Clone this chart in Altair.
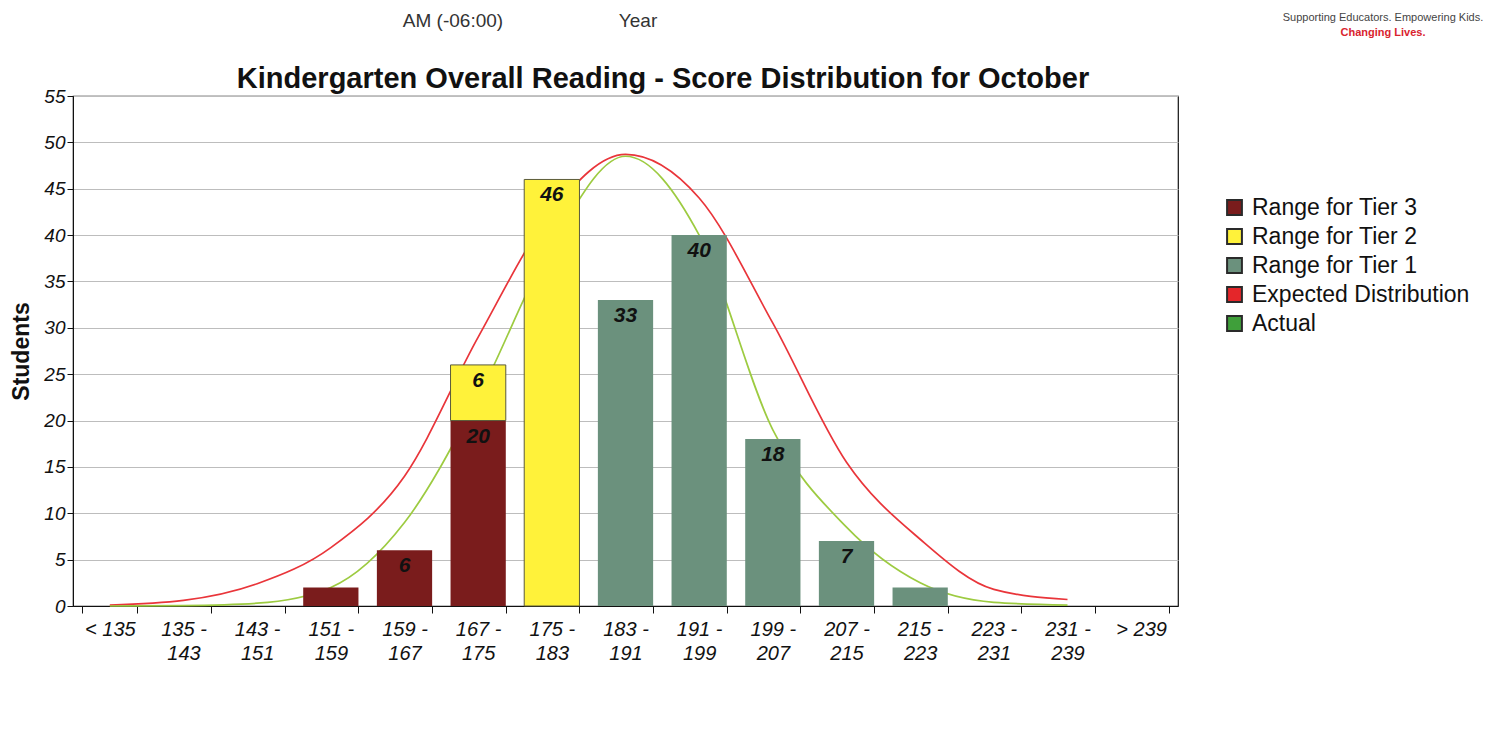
import altair as alt
import pandas as pd

categories = ["< 135", "135 - 143", "143 - 151", "151 - 159", "159 - 167", "167 - 175",
              "175 - 183", "183 - 191", "191 - 199", "199 - 207", "207 - 215", "215 - 223",
              "223 - 231", "231 - 239", "> 239"]
tier3 = [0, 0, 0, 2, 6, 20, 0, 0, 0, 0, 0, 0, 0, 0, 0]
tier2 = [0, 0, 0, 0, 0, 6, 46, 0, 0, 0, 0, 0, 0, 0, 0]
tier1 = [0, 0, 0, 0, 0, 0, 0, 33, 40, 18, 7, 2, 0, 0, 0]
expected = [0.1, 0.6, 2.4, 6.3, 14, 29, 42.5, 48.7, 44, 30.5, 15.5, 7.2, 1.8, 0.7, None]
actual = [0.0, 0.05, 0.3, 2.0, 9.0, 22.5, 39, 48.5, 40, 19, 8.5, 2.5, 0.4, 0.1, None]

series_names = ["Range for Tier 3", "Range for Tier 2", "Range for Tier 1",
                "Expected Distribution", "Actual"]
series_colors = ["#7a1c1c", "#fff23a", "#6b917d", "#e4262a", "#3f9f3a"]
title_text = "Kindergarten Overall Reading - Score Distribution for October"
header_left = "AM (-06:00)"
header_mid = "Year"
logo_line1 = "Supporting Educators. Empowering Kids."
logo_line2 = "Changing Lives."

FONT = "Liberation Sans"

rows = []
for i, c in enumerate(categories):
    for k, (name, vals) in enumerate(zip(series_names[:3], [tier3, tier2, tier1])):
        if vals[i] > 0:
            rows.append({"cat": c, "series": name, "value": vals[i], "order": k})
bars_df = pd.DataFrame(rows)
bars_df = bars_df.sort_values(["cat", "order"])
bars_df["top"] = bars_df.groupby("cat")["value"].cumsum()
labels_df = bars_df[bars_df["value"] >= 5]

lines_df = pd.DataFrame({"cat": categories, "expected": expected, "actual": actual}).dropna()

x_enc = alt.X("cat:N", sort=categories,
              scale=alt.Scale(domain=categories, paddingInner=0.25, paddingOuter=0.125),
              axis=alt.Axis(title=None, labelAngle=0, tickBand="extent", tickSize=7,
                            labelPadding=6, labelFontSize=20, labelFontStyle="italic",
                            labelLineHeight=24,
                            labelExpr="indexof(datum.label, ' - ') > 0 ? [split(datum.label, ' - ')[0] + ' -', split(datum.label, ' - ')[1]] : datum.label"))
y_scale = alt.Scale(domain=[0, 55], nice=False)
y_axis = alt.Axis(title="Students", values=list(range(0, 56, 5)), grid=True,
                  gridColor="#bdbdbd", tickSize=6, labelFontSize=19,
                  labelFontStyle="italic", titleFontSize=23, titleFontWeight="bold",
                  titlePadding=10)

expected_line = alt.Chart(lines_df).mark_line(
    color="#e9353a", strokeWidth=1.7, interpolate="monotone"
).encode(x=x_enc, y=alt.Y("expected:Q", scale=y_scale, axis=y_axis))

actual_line = alt.Chart(lines_df).mark_line(
    color="#9dcb41", strokeWidth=1.7, interpolate="monotone"
).encode(x=x_enc, y=alt.Y("actual:Q", scale=y_scale, axis=y_axis))

bars = alt.Chart(bars_df).mark_bar().encode(
    x=x_enc,
    y=alt.Y("value:Q", stack="zero", scale=y_scale, axis=y_axis),
    color=alt.Color("series:N", scale=alt.Scale(domain=series_names, range=series_colors),
                    legend=alt.Legend(title=None, orient="none", legendX=1150, legendY=100,
                                      symbolType="square", symbolSize=220,
                                      symbolStrokeColor="#2a2a2a", symbolStrokeWidth=2,
                                      labelFontSize=23, labelFont=FONT, labelColor="#111",
                                      labelLimit=0, rowPadding=5, labelOffset=6)),
    order=alt.Order("order:Q"),
    stroke=alt.condition(alt.datum.series == "Range for Tier 2", alt.value("#5a5a3a"),
                         alt.value("transparent")),
    strokeWidth=alt.value(1),
)

bar_labels = alt.Chart(labels_df).mark_text(
    baseline="top", dy=5, fontSize=21, fontWeight="bold", fontStyle="italic",
    color="#111", font=FONT
).encode(x=x_enc, y=alt.Y("top:Q", scale=y_scale, axis=y_axis), text="value:Q")


def note(text, x, y, size, color, weight="normal", baseline="top"):
    return alt.Chart(pd.DataFrame({"t": [text]})).mark_text(
        fontSize=size, color=color, font=FONT, fontWeight=weight, baseline=baseline
    ).encode(x=alt.value(x), y=alt.value(y), text="t:N")


title_mark = note(title_text, 590, -8, 29, "#111", weight="bold", baseline="alphabetic")
hdr1 = note(header_left, 380, -84, 19, "#333")
hdr2 = note(header_mid, 565, -84, 19, "#333")
logo1 = note(logo_line1, 1310, -84, 11, "#444")
logo2 = note(logo_line2, 1310, -69, 11, "#d9232e", weight="bold")

chart = alt.layer(
    expected_line, actual_line, bars, bar_labels, title_mark, hdr1, hdr2, logo1, logo2
).properties(
    width=1105, height=510,
    padding={"left": 2, "top": 4, "right": 5, "bottom": 5},
).configure_view(
    stroke="#111", strokeWidth=1.2
).configure_axis(
    domainColor="#111", tickColor="#111", labelColor="#111", titleColor="#111",
    labelFont=FONT, titleFont=FONT
)

chart.save("out.html", embed_options={"renderer": "svg", "actions": False})
